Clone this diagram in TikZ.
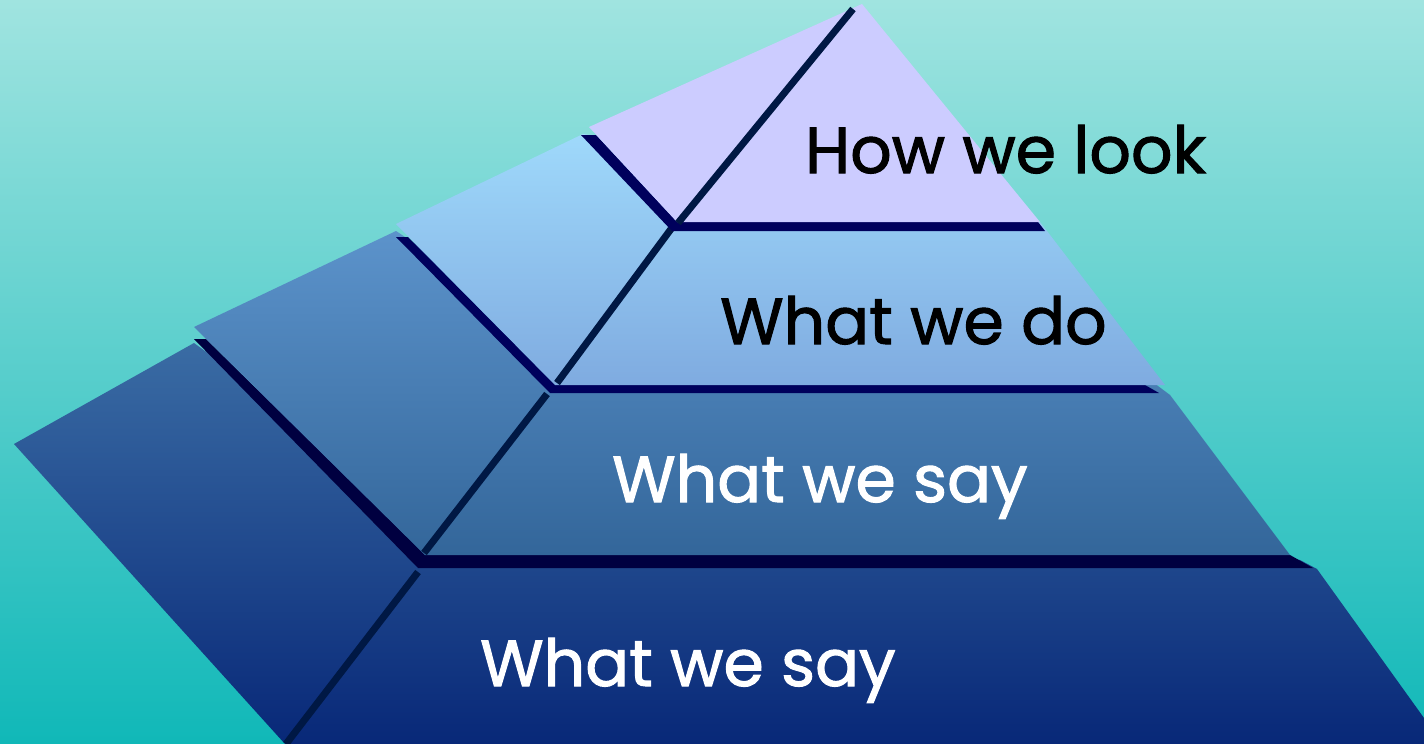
\documentclass[tikz,border=0pt]{standalone}
\usepackage{fontspec}
\setmainfont{Poppins}[FakeBold=1.6]
\definecolor{bgtop}{HTML}{A0E4E0}
\definecolor{bgbot}{HTML}{10B8B8}
\definecolor{lav}{HTML}{CCCCFF}
\definecolor{ltop}{HTML}{9FD9FB}
\definecolor{lbot}{HTML}{7FABE0}
\definecolor{mtop}{HTML}{5C93CB}
\definecolor{mbot}{HTML}{33669A}
\definecolor{dtop}{HTML}{3A6CA4}
\definecolor{dbot}{HTML}{082878}
\definecolor{navyA}{HTML}{00005C}
\definecolor{navyB}{HTML}{000040}
\definecolor{ridge}{HTML}{001844}
\tikzset{
  ridgeline/.style={draw=ridge, line width=7pt},
  lbl/.style={anchor=base west, inner sep=0pt, font=\fontsize{65}{70}\selectfont},
}
\begin{document}
\begin{tikzpicture}[x=1pt,y=-1pt]
\useasboundingbox (0,0) rectangle (1424,744);
\shade[top color=bgtop, bottom color=bgbot] (0,0) rectangle (1424,744);
% layer 4 (bottom)
\shade[top color=dtop, bottom color=dbot]
  (14,444) -- (194,343) -- (300,420) -- (1300,560) -- (1317,569) -- (1424,718) -- (1424,744) -- (285,744) -- cycle;
\draw[ridgeline] (418,572) -- (286,744);
% layer 3
\fill[navyB] (194,339) -- (418,568) -- (1313,568) -- (1290,555) -- (425,555) -- (206,339) -- cycle;
\shade[top color=mtop, bottom color=mbot]
  (194,327) -- (396,231) -- (500,300) -- (1150,380) -- (1170,395) -- (1290,555) -- (425,555) -- cycle;
\draw[ridgeline] (547,394) -- (424,553);
% layer 2
\fill[navyA] (396,237) -- (550,393) -- (1159,393) -- (1145,385) -- (555,385) -- (408,237) -- cycle;
\shade[top color=ltop, bottom color=lbot]
  (396,224) -- (583,134) -- (700,150) -- (1040,222) -- (1047,231) -- (1165,385) -- (555,385) -- cycle;
\draw[ridgeline] (671,229) -- (557,383);
% layer 1 (top)
\fill[navyA] (581,135) -- (672,231) -- (1045,231) -- (1038,222) -- (677,222) -- (596,135) -- cycle;
\fill[lav] (589,127) -- (862,4) -- (1040,222) -- (677,222) -- cycle;
\draw[ridgeline] (853,9) -- (678,223);
% labels
\node[lbl, text=black] (look) at (805,173) {How we look};
\node[lbl, text=black] (do) at (720,344) {What we do};
\node[lbl, text=white] (say1) at (612,502) {What we say};
\node[lbl, text=white] (say2) at (480,686) {What we say};
\end{tikzpicture}
\end{document}
